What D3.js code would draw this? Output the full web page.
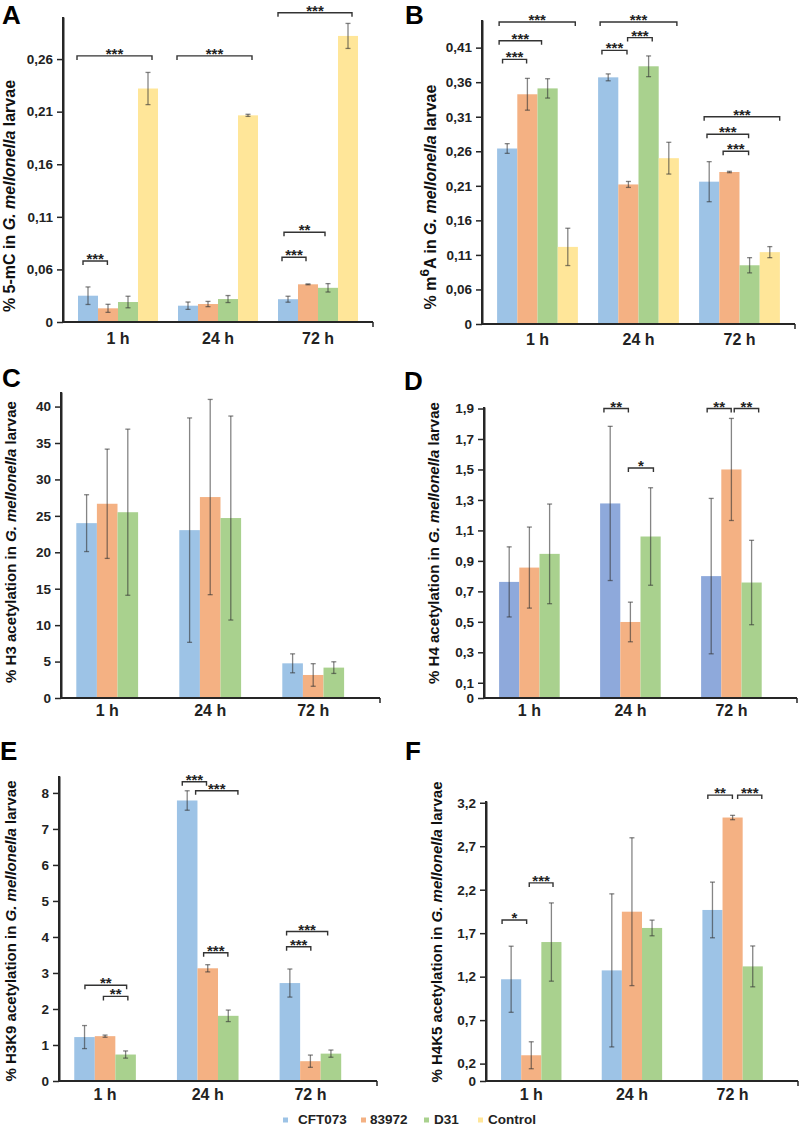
<!DOCTYPE html>
<html>
<head>
<meta charset="utf-8">
<script src="https://cdn.jsdelivr.net/npm/d3@7"></script>
<style>
  html, body { margin: 0; padding: 0; background: #fff; }
  svg { display: block; font-family: "Liberation Sans", Arial, Helvetica, sans-serif; }
</style>
</head>
<body>
<svg id="chart" width="800" height="1126"></svg>
<script>
// ---------------- DATA ----------------
const groups = ["1 h", "24 h", "72 h"];
const seriesNames = ["CFT073", "83972", "D31", "Control"];

// A: % 5-mC
const mC5Values = [[0.030, 0.0156, 0.0228, 0.232], [0.0186, 0.0205, 0.0262, 0.2065], [0.026, 0.043, 0.039, 0.282]];
const mC5Errors = [[0.010, 0.0046, 0.0066, 0.0153], [0.0042, 0.003, 0.004, 0.001], [0.0034, 0.0005, 0.0048, 0.0119]];
const mC5Ticks = [0, 0.06, 0.11, 0.16, 0.21, 0.26];
const mC5Brackets = [[0, -0.05, 3.7, 0.263, "***"], [0, 0.25, 1.47, 0.068, "***"], [1, -0.05, 3.7, 0.263, "***"],
                     [2, 0, 3.7, 0.304, "***"], [2, 0.3, 2.35, 0.0953, "**"], [2, 0.2, 1.4, 0.0715, "***"]];

// B: % m6A
const m6AValues = [[0.264, 0.3425, 0.351, 0.1216], [0.367, 0.212, 0.383, 0.25], [0.216, 0.23, 0.095, 0.114]];
const m6AErrors = [[0.007, 0.023, 0.014, 0.027], [0.005, 0.0043, 0.015, 0.023], [0.029, 0.001, 0.011, 0.008]];
const m6ATicks = [0, 0.06, 0.11, 0.16, 0.21, 0.26, 0.31, 0.36, 0.41];
const m6ABrackets = [[0, 0.1, 3.87, 0.447, "***"], [0, 0.1, 2.2, 0.42, "***"], [0, 0.27, 1.46, 0.393, "***"],
                     [1, 0.1, 3.9, 0.447, "***"], [1, 0.19, 1.43, 0.406, "***"], [1, 1.46, 2.68, 0.4245, "***"],
                     [2, 0.25, 3.99, 0.31, "***"], [2, 0.39, 2.45, 0.2846, "***"], [2, 1.19, 2.45, 0.26, "***"]];

// C: % H3 acetylation
const h3Values = [[24.0, 26.66, 25.5], [23.04, 27.58, 24.7], [4.76, 3.16, 4.17]];
const h3Errors = [[3.9, 7.5, 11.4], [15.4, 13.4, 14.0], [1.3, 1.55, 0.8]];
const h3Ticks = [0, 5, 10, 15, 20, 25, 30, 35, 40];
const h3Brackets = [];

// D: % H4 acetylation
const h4Values = [[0.762, 0.856, 0.946], [1.277, 0.499, 1.06], [0.80, 1.50, 0.758]];
const h4Errors = [[0.23, 0.266, 0.327], [0.506, 0.13, 0.32], [0.51, 0.335, 0.277]];
const h4Ticks = [0, 0.1, 0.3, 0.5, 0.7, 0.9, 1.1, 1.3, 1.5, 1.7, 1.9];
const h4Brackets = [[1, 0.19, 1.4, 1.90, "**"], [1, 1.4, 2.64, 1.51, "*"], [2, 0.3, 1.49, 1.90, "**"], [2, 1.64, 2.85, 1.90, "**"]];

// E: % H3K9 acetylation
const h3k9Values = [[1.22, 1.245, 0.735], [7.79, 3.13, 1.81], [2.72, 0.55, 0.76]];
const h3k9Errors = [[0.32, 0.03, 0.10], [0.27, 0.10, 0.16], [0.39, 0.17, 0.10]];
const h3k9Ticks = [0, 1, 2, 3, 4, 5, 6, 7, 8];
const h3k9Brackets = [[0, 0.52, 2.55, 2.66, "**"], [0, 1.42, 2.61, 2.35, "**"], [1, 0.26, 1.44, 8.31, "***"],
                      [1, 0.91, 2.97, 8.06, "***"], [1, 1.30, 2.48, 3.56, "***"], [2, 0.34, 2.34, 4.15, "***"],
                      [2, 0.34, 1.52, 3.73, "***"]];

// F: % H4K5 acetylation
const h4k5Values = [[1.17, 0.296, 1.598], [1.272, 1.947, 1.76], [1.967, 3.03, 1.318]];
const h4k5Errors = [[0.38, 0.155, 0.45], [0.88, 0.85, 0.09], [0.32, 0.025, 0.235]];
const h4k5Ticks = [0, 0.2, 0.7, 1.2, 1.7, 2.2, 2.7, 3.2];
const h4k5Brackets = [[0, 0.05, 1.27, 1.851, "*"], [0, 1.4, 2.58, 2.278, "***"], [2, 0.27, 1.49, 3.288, "**"], [2, 1.75, 2.95, 3.288, "***"]];

// ---------------- STYLE / LAYOUT ----------------
const colors = ["#9DC3E6", "#F4B183", "#A9D18E", "#FFE699"];
const colorsD = ["#8EA9DB", "#F4B183", "#A9D18E", "#FFE699"];

const panels = [
  { letter: "A", values: mC5Values, errors: mC5Errors, ticks: mC5Ticks, max: 0.30, offsetZero: true, brackets: mC5Brackets,
    label: [["% 5-mC in "], ["G. mellonella", "italic"], [" larvae"]],
    lay: { x: 63, top: 17, base: 322, right: 373, labelX: 9, labelY: 196, labelSize: 16, lx: 2, ly: 24, xdy: 22 }, colors: colors },
  { letter: "B", values: m6AValues, errors: m6AErrors, ticks: m6ATicks, max: 0.45, offsetZero: true, brackets: m6ABrackets,
    label: [["% m"], ["6", "sup"], ["A in "], ["G. mellonella", "italic"], [" larvae"]],
    lay: { x: 482, top: 20, base: 324, right: 795, labelX: 430, labelY: 197, labelSize: 16, lx: 405, ly: 24, xdy: 21 }, colors: colors },
  { letter: "C", values: h3Values, errors: h3Errors, ticks: h3Ticks, max: 42, offsetZero: false, brackets: h3Brackets,
    label: [["% H3 acetylation in "], ["G. mellonella", "italic"], [" larvae"]],
    lay: { x: 61, top: 392, base: 698, right: 380, labelX: 11, labelY: 542, labelSize: 15, lx: 2, ly: 387, xdy: 18 }, colors: colors },
  { letter: "D", values: h4Values, errors: h4Errors, ticks: h4Ticks, max: 1.91, offsetZero: false, brackets: h4Brackets,
    label: [["% H4 acetylation in "], ["G. mellonella", "italic"], [" larvae"]],
    lay: { x: 484, top: 407, base: 698, right: 797, labelX: 434, labelY: 543, labelSize: 15, lx: 404, ly: 390, xdy: 18 }, colors: colorsD },
  { letter: "E", values: h3k9Values, errors: h3k9Errors, ticks: h3k9Ticks, max: 8.47, offsetZero: false, brackets: h3k9Brackets,
    label: [["% H3K9 acetylation in "], ["G. mellonella", "italic"], [" larvae"]],
    lay: { x: 59, top: 776, base: 1081, right: 377, labelX: 11, labelY: 931, labelSize: 15, lx: 0, ly: 760, xdy: 19 }, colors: colors },
  { letter: "F", values: h4k5Values, errors: h4k5Errors, ticks: h4k5Ticks, max: 3.22, offsetZero: false, brackets: h4k5Brackets,
    label: [["% H4K5 acetylation in "], ["G. mellonella", "italic"], [" larvae"]],
    lay: { x: 486, top: 801, base: 1081, right: 798, labelX: 437, labelY: 932, labelSize: 15, lx: 405, ly: 760, xdy: 19 }, colors: colors }
];

const legendX = [283, 361, 424, 478];
const legendTextX = [298, 370, 434, 488];

// ---------------- DRAW ----------------
const svg = d3.select("#chart");
const axisColor = "#262626";
const fmt = d => String(d).replace(".", ",");

panels.forEach(p => {
  const L = p.lay;
  const g = svg.append("g");

  // scales
  const x0 = d3.scaleBand().domain(d3.range(groups.length))
    .range([L.x + 5, L.right - 5]).paddingInner(0.2).paddingOuter(0.1);
  const x1 = d3.scaleBand().domain(d3.range(seriesNames.length)).range([0, x0.bandwidth()]);
  const bw = x1.bandwidth();

  let y;
  if (p.offsetZero) {
    const step = p.ticks[2] - p.ticks[1];
    const units = 1 + (p.max - p.ticks[1]) / step;
    const unitPx = (L.base - L.top) / units;
    y = d3.scaleLinear().domain([0, p.ticks[1], p.max]).range([L.base, L.base - unitPx, L.top]);
  } else {
    y = d3.scaleLinear().domain([0, p.max]).range([L.base, L.top]);
  }

  // bars
  const barData = [];
  p.values.forEach((row, gi) => row.forEach((v, si) => barData.push({ gi, si, v, e: p.errors[gi][si] })));

  g.selectAll("rect.bar").data(barData).join("rect")
    .attr("class", "bar")
    .attr("x", d => x0(d.gi) + x1(d.si))
    .attr("y", d => y(d.v))
    .attr("width", bw)
    .attr("height", d => y(0) - y(d.v))
    .attr("fill", d => p.colors[d.si]);

  // error bars
  const eb = g.selectAll("g.err").data(barData).join("g").attr("class", "err")
    .attr("stroke", "#333").attr("stroke-opacity", 0.6).attr("stroke-width", 1.3).attr("fill", "none");
  eb.append("line")
    .attr("x1", d => x0(d.gi) + x1(d.si) + bw / 2).attr("x2", d => x0(d.gi) + x1(d.si) + bw / 2)
    .attr("y1", d => y(d.v + d.e)).attr("y2", d => y(d.v - d.e));
  eb.append("line")
    .attr("x1", d => x0(d.gi) + x1(d.si) + bw / 2 - 2.5).attr("x2", d => x0(d.gi) + x1(d.si) + bw / 2 + 2.5)
    .attr("y1", d => y(d.v + d.e)).attr("y2", d => y(d.v + d.e));
  eb.append("line")
    .attr("x1", d => x0(d.gi) + x1(d.si) + bw / 2 - 2.5).attr("x2", d => x0(d.gi) + x1(d.si) + bw / 2 + 2.5)
    .attr("y1", d => y(d.v - d.e)).attr("y2", d => y(d.v - d.e));

  // y axis
  const yAxis = d3.axisLeft(y).tickValues(p.ticks).tickFormat(fmt).tickSize(6).tickSizeOuter(0).tickPadding(4);
  const ya = g.append("g").attr("transform", `translate(${L.x},0)`).call(yAxis);
  ya.select(".domain").attr("stroke", axisColor).attr("stroke-width", 2);
  ya.selectAll(".tick line").attr("stroke", axisColor).attr("stroke-width", 1.5);
  ya.selectAll(".tick text").attr("fill", "#222").attr("font-size", 13.5).attr("font-weight", "bold");
  g.append("line").attr("x1", L.x).attr("x2", L.x).attr("y1", L.top).attr("y2", L.base + 1)
    .attr("stroke", axisColor).attr("stroke-width", 2);

  // x axis
  g.append("line").attr("x1", L.x).attr("x2", L.right).attr("y1", L.base).attr("y2", L.base)
    .attr("stroke", axisColor).attr("stroke-width", 2);
  g.append("line").attr("x1", L.right).attr("x2", L.right).attr("y1", L.base).attr("y2", L.base + 5)
    .attr("stroke", axisColor).attr("stroke-width", 1.5);

  const nSeries = p.values[0].length;
  g.selectAll("text.xlab").data(groups).join("text")
    .attr("class", "xlab")
    .attr("x", (d, i) => x0(i) + nSeries * bw / 2)
    .attr("y", L.base + L.xdy)
    .attr("text-anchor", "middle")
    .attr("font-size", 16).attr("font-weight", "bold").attr("fill", "#222")
    .text(d => d);

  // significance brackets
  p.brackets.forEach(b => {
    const [gi, from, to, yv, lab] = b;
    const xa = x0(gi) + from * bw, xb = x0(gi) + to * bw, yy = y(yv);
    g.append("path")
      .attr("d", `M${xa},${yy + 4}V${yy}H${xb}V${yy + 4}`)
      .attr("fill", "none").attr("stroke", "#333").attr("stroke-width", 1.4);
    g.append("text")
      .attr("x", (xa + xb) / 2).attr("y", yy + 3)
      .attr("text-anchor", "middle").attr("font-size", 15).attr("font-weight", "bold").attr("fill", "#222")
      .text(lab);
  });

  // y label
  const yl = g.append("text")
    .attr("transform", `translate(${L.labelX},${L.labelY}) rotate(-90)`)
    .attr("text-anchor", "middle").attr("dy", "0.36em")
    .attr("font-size", L.labelSize).attr("font-weight", "bold").attr("fill", "#111");
  p.label.forEach(part => {
    const t = yl.append("tspan").text(part[0]);
    if (part[1] === "italic") t.attr("font-style", "italic");
    if (part[1] === "sup") t.attr("baseline-shift", "super").attr("font-size", L.labelSize * 0.85);
  });

  // panel letter
  g.append("text").attr("x", L.lx).attr("y", L.ly)
    .attr("font-size", 26).attr("font-weight", "bold").attr("fill", "#000").text(p.letter);
});

// legend
const leg = svg.append("g");
seriesNames.forEach((name, i) => {
  leg.append("rect").attr("x", legendX[i]).attr("y", 1117.5).attr("width", 5).attr("height", 5).attr("fill", colors[i]);
  leg.append("text").attr("x", legendTextX[i]).attr("y", 1123.5)
    .attr("font-size", 13.5).attr("font-weight", "bold").attr("fill", "#222").text(name);
});
</script>
</body>
</html>
